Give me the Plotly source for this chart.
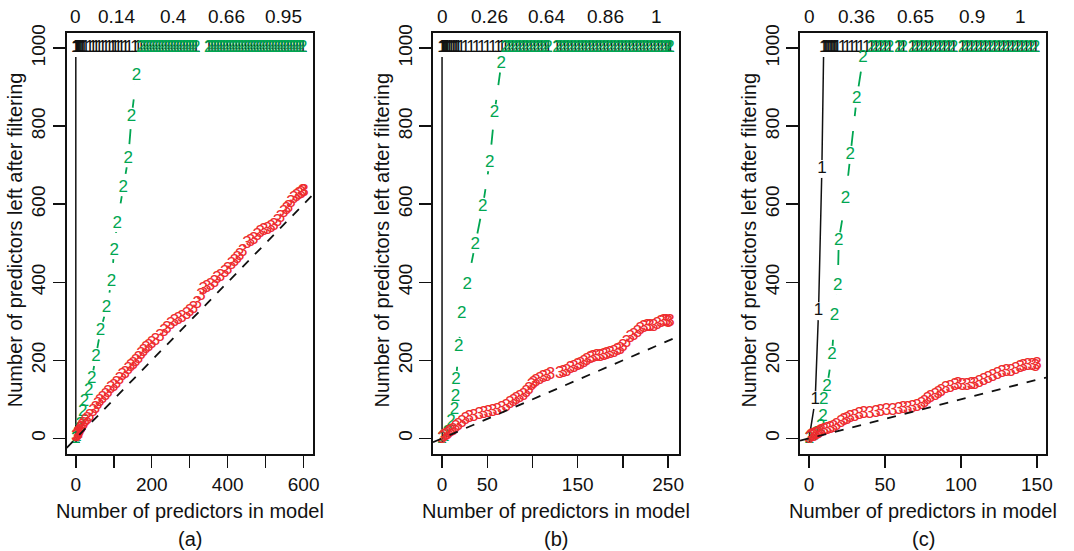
import plotly.graph_objects as go

# ---------------- data ----------------
# Panel (a)
A_BLACK_X = [0, 0]
A_BLACK_Y = [0, 1000]
A_TOP_X = [1, 2, 3, 5, 7, 10, 13, 17, 21, 26, 37, 45, 53, 61, 70, 79, 88, 97, 103,
           111, 120, 130, 140, 156, 164, 172, 180, 188, 196, 204, 212, 220, 228, 236,
           244, 252, 260, 268, 276, 284, 292, 300, 308, 316, 350, 358, 366, 374, 382,
           390, 398, 406, 414, 422, 430, 438, 446, 454, 462, 470, 478, 486, 494, 502,
           510, 518, 526, 534, 542, 550, 558, 566, 574, 582, 590, 598]
A_GREEN_X = [0, 3, 6, 9, 12, 18, 23, 34, 42, 53, 65, 81, 94, 101, 109, 125, 138, 147, 160]
A_GREEN_Y = [0, 5, 12, 22, 35, 67, 95, 122, 152, 209, 276, 334, 402, 482, 551, 643, 717, 825, 928]
A_RED_X = [0, 2, 4, 5, 7, 8, 10, 12, 14, 16, 20, 25, 30, 37, 45, 52, 58, 63, 70, 78, 85,
           92, 100, 107, 115, 122, 130, 138, 145, 151, 158, 165, 172, 178, 185, 192, 200,
           210, 222, 232, 240, 250, 260, 270, 280, 292, 300, 310, 320, 330, 336, 345, 355,
           365, 372, 381, 392, 400, 410, 418, 425, 432, 440, 451, 460, 469, 478, 486, 495,
           505, 514, 522, 531, 539, 548, 555, 560, 567, 574, 581, 588, 594, 598, 601]
A_RED_Y = [3, 5, 8, 12, 10, 15, 18, 22, 25, 30, 35, 42, 48, 56, 68, 76, 85, 94, 102, 110, 118,
           126, 133, 141, 150, 160, 166, 176, 183, 188, 196, 205, 215, 223, 230, 236, 242,
           250, 261, 272, 280, 290, 298, 305, 310, 317, 325, 333, 345, 365, 381, 385, 392,
           400, 410, 415, 425, 432, 445, 452, 460, 468, 478, 500, 505, 510, 518, 527, 531,
           535, 540, 544, 555, 565, 578, 585, 592, 603, 615, 620, 625, 628, 631, 632]
A_TOP_POS = [0, 108, 256, 396, 547]
A_TOP_LAB = ["0", "0.14", "0.4", "0.66", "0.95"]

# Panel (b)
B_BLACK_X = [0, 0]
B_BLACK_Y = [0, 1000]
B_TOP_X = [1, 2, 3, 4, 5, 6, 8, 10, 12, 14, 16, 18, 21, 26, 32, 38, 44, 50, 56, 62, 66, 70,
           74, 78, 82, 86, 90, 94, 98, 102, 106, 110, 114, 117, 127, 131, 135, 139, 143,
           147, 151, 155, 159, 163, 167, 171, 175, 179, 183, 187, 191, 195, 199, 203, 207,
           211, 215, 219, 223, 227, 231, 235, 239, 243, 247, 250, 252]
B_GREEN_X = [0, 3, 6, 10, 13.7, 14.8, 15.5, 18.5, 21.8, 27.8, 36.7, 45, 52.6, 58, 65.5]
B_GREEN_Y = [0, 5, 15, 43, 73, 107, 150, 235, 320, 394, 497, 594, 707, 834, 960]
B_RED_X = [0, 2, 4, 6, 8, 10, 12, 15, 18, 22, 26, 30, 35, 41, 46, 51, 56, 61, 66, 71, 75,
           79, 82, 86, 90, 93, 96, 99, 101, 104, 108, 112, 116, 120, 130, 134, 138, 142,
           146, 150, 153, 157, 160, 164, 167, 171, 175, 179, 182, 186, 190, 194, 197, 200,
           204, 208, 212, 216, 219, 223, 227, 230, 234, 238, 242, 245, 248, 250, 252]
B_RED_Y = [0, 4, 8, 10, 14, 18, 20, 26, 32, 40, 47, 52, 56, 60, 63, 66, 68, 72, 76, 81, 88,
           94, 98, 104, 110, 116, 124, 134, 141, 146, 150, 155, 158, 162, 165, 167, 172, 178,
           182, 186, 188, 194, 200, 204, 206, 208, 210, 212, 214, 216, 220, 224, 227, 235,
           246, 257, 262, 270, 279, 283, 285, 286, 287, 292, 296, 300, 298, 296, 299]
B_TOP_POS = [0, 52.6, 116, 181, 237]
B_TOP_LAB = ["0", "0.26", "0.64", "0.86", "1"]

# Panel (c)
C_BLACK_X = [0, 4, 6.2, 8.4]
C_BLACK_Y = [0, 98, 326, 690]
C_TOP_X = [9.6, 10.5, 11.5, 12.5, 13.5, 14.5, 15.5, 16.5, 17.5, 18.5, 22, 25, 28, 31, 34,
           38, 41, 44, 47, 50, 53, 59, 62, 68, 71, 74, 77, 80, 83, 86, 89, 92, 95, 101,
           104, 107, 110, 113, 116, 119, 122, 125, 128, 131, 134, 137, 140, 143, 146, 149]
C_GREEN_X = [0, 3, 5, 7.7, 9.1, 9.6, 11.8, 15.1, 16.7, 18.9, 19.5, 24, 27, 31.3, 35.5]
C_GREEN_Y = [0, 6, 12, 30, 56, 98, 133, 214, 313, 390, 506, 613, 726, 870, 975]
C_RED_X = [0, 1, 2, 3, 4, 5, 6, 7, 8, 10, 12, 14, 16, 18, 21, 23, 25, 27, 30, 33, 36, 40,
           44, 47, 51, 55, 59, 62, 65, 68, 71, 74, 76, 78, 80, 83, 85, 87, 90, 93, 96, 98,
           101, 104, 107, 109, 112, 115, 118, 121, 124, 127, 130, 133, 136, 139, 141, 144,
           147, 149, 150]
C_RED_Y = [0, 3, 6, 5, 9, 10, 12, 14, 16, 20, 22, 25, 28, 32, 39, 45, 48, 52, 56, 60, 62,
           64, 66, 68, 70, 72, 74, 75, 77, 78, 80, 86, 92, 98, 104, 110, 115, 120, 126, 130,
           134, 137, 136, 136, 137, 138, 142, 148, 154, 158, 162, 167, 170, 172, 176, 180,
           184, 186, 186, 184, 188]
C_TOP_POS = [0, 31.3, 70, 107, 139.5]
C_TOP_LAB = ["0", "0.36", "0.65", "0.9", "1"]

SAT = 1000  # saturation level

X_RANGES = [[-24, 624], [-10, 262], [-6, 156]]
X_TICKS = [[0, 100, 200, 300, 400, 500, 600], [0, 50, 100, 150, 200, 250], [0, 50, 100, 150]]
X_TICKTEXT = [["0", "", "200", "", "400", "", "600"], ["0", "50", "", "150", "", "250"],
              ["0", "50", "100", "150"]]
Y_TICKS = [0, 200, 400, 600, 800, 1000]
PANEL_LABELS = ["(a)", "(b)", "(c)"]
X_TITLE = "Number of predictors in model"
Y_TITLE = "Number of predictors left after filtering"

# ---------------- styling ----------------
W, H = 1074, 551
FONT = "Liberation Sans, Arial, Helvetica, sans-serif"
BLACK = "#111111"
GREEN = "#00A651"
RED = "#EE2B2E"
BOX_PX = [(66.7, 312.7), (433, 679), (800, 1046)]
TOP_PX, BOT_PX = 32.5, 454
YDOM = [1 - BOT_PX / H, 1 - TOP_PX / H]
TICK_FS = 19
TITLE_FS = 20
MARK_FS = 17

panels = [
    (A_BLACK_X, A_BLACK_Y, A_TOP_X, A_GREEN_X, A_GREEN_Y, A_RED_X, A_RED_Y, A_TOP_POS, A_TOP_LAB),
    (B_BLACK_X, B_BLACK_Y, B_TOP_X, B_GREEN_X, B_GREEN_Y, B_RED_X, B_RED_Y, B_TOP_POS, B_TOP_LAB),
    (C_BLACK_X, C_BLACK_Y, C_TOP_X, C_GREEN_X, C_GREEN_Y, C_RED_X, C_RED_Y, C_TOP_POS, C_TOP_LAB),
]

fig = go.Figure()
annotations = []
for i, (bx, by, topx, gx, gy, rx, ry, tpos, tlab) in enumerate(panels):
    n = "" if i == 0 else str(i + 1)
    xa, ya = "x" + n, "y" + n
    # black series: rising points then the saturated row
    blk_x = list(bx) + [t for t in topx if t > max(bx) or (max(bx) == 0 and t >= 0)]
    blk_y = list(by) + [SAT] * (len(blk_x) - len(by))
    # green series: rising part then saturated row beyond last rising point
    gr_x = list(gx) + [t for t in topx if t > max(gx) + 4]
    gr_y = list(gy) + [SAT] * (len(gr_x) - len(gy))

    gap = dict(color="white", size=18, symbol="circle", line=dict(width=0))
    fig.add_trace(go.Scatter(x=gr_x, y=gr_y, mode="lines+markers", xaxis=xa, yaxis=ya,
                             line=dict(color=GREEN, width=1.8, dash="longdash"),
                             marker=gap, hoverinfo="skip", showlegend=False))
    fig.add_trace(go.Scatter(x=blk_x, y=blk_y, mode="lines+markers", xaxis=xa, yaxis=ya,
                             line=dict(color=BLACK, width=1.5), marker=gap,
                             hoverinfo="skip", showlegend=False))
    tf = dict(family=FONT, size=MARK_FS)
    fig.add_trace(go.Scatter(x=blk_x, y=blk_y, mode="text", text=["1"] * len(blk_x),
                             textfont=dict(tf, color=BLACK), xaxis=xa, yaxis=ya,
                             hoverinfo="skip", showlegend=False, cliponaxis=False))
    fig.add_trace(go.Scatter(x=gr_x, y=gr_y, mode="text", text=["2"] * len(gr_x),
                             textfont=dict(tf, color=GREEN), xaxis=xa, yaxis=ya,
                             hoverinfo="skip", showlegend=False, cliponaxis=False))
    fig.add_trace(go.Scatter(x=rx, y=ry, mode="text", text=["3"] * len(rx),
                             textfont=dict(tf, color=RED), xaxis=xa, yaxis=ya,
                             hoverinfo="skip", showlegend=False, cliponaxis=False))
    # y = x reference line across the plotting region
    lo, hi = X_RANGES[i]
    fig.add_trace(go.Scatter(x=[lo, hi], y=[lo, hi], mode="lines", xaxis=xa, yaxis=ya,
                             line=dict(color=BLACK, width=1.8, dash="dash"),
                             hoverinfo="skip", showlegend=False))

    l, r = BOX_PX[i]
    xdom = [l / W, r / W]
    axis_common = dict(showgrid=False, zeroline=False, showline=True, mirror=True,
                       linecolor=BLACK, linewidth=1.8, ticks="outside", ticklen=12,
                       tickwidth=1.5, tickcolor=BLACK, automargin=False,
                       tickfont=dict(family=FONT, size=TICK_FS, color=BLACK))
    fig.layout["xaxis" + n] = dict(axis_common, domain=xdom, range=X_RANGES[i],
                                   anchor=ya, tickmode="array", tickvals=X_TICKS[i],
                                   ticktext=X_TICKTEXT[i], ticklabelstandoff=0)
    fig.layout["yaxis" + n] = dict(axis_common, domain=YDOM, range=[-40, 1040],
                                   anchor=xa, tickmode="array", tickvals=Y_TICKS,
                                   ticktext=[str(v) for v in Y_TICKS], tickangle=-90,
                                   ticklabelstandoff=0)
    # top labels
    for p, lab in zip(tpos, tlab):
        annotations.append(dict(x=p, y=1 - 16 / H, xref=xa, yref="paper", text=lab,
                                showarrow=False, xanchor="center", yanchor="middle",
                                font=dict(family=FONT, size=TICK_FS, color=BLACK)))
    cx = (l + r) / 2 / W
    annotations.append(dict(x=cx, y=1 - 511 / H, xref="paper", yref="paper", text=X_TITLE,
                            showarrow=False, xanchor="center", yanchor="middle",
                            font=dict(family=FONT, size=TITLE_FS, color=BLACK)))
    annotations.append(dict(x=cx, y=1 - 539 / H, xref="paper", yref="paper",
                            text=PANEL_LABELS[i], showarrow=False, xanchor="center",
                            yanchor="middle", font=dict(family=FONT, size=TITLE_FS, color=BLACK)))
    annotations.append(dict(x=(l - 51.5) / W, y=1 - 240 / H, xref="paper", yref="paper",
                            text=Y_TITLE, textangle=-90, showarrow=False, xanchor="center",
                            yanchor="middle", font=dict(family=FONT, size=TITLE_FS, color=BLACK)))

fig.update_layout(width=W, height=H,
                  margin=dict(l=0, r=0, t=0, b=0, pad=0, autoexpand=False),
                  paper_bgcolor="white", plot_bgcolor="white",
                  annotations=annotations, showlegend=False, hovermode=False)

PAGE_FIX = (
    "var gd=document.getElementById('{plot_id}');"
    "[document.documentElement, document.body].forEach(function(e){"
    "e.style.margin='0';e.style.padding='0';e.style.overflow='hidden';});"
    "window.scrollTo(0,0);"
)
fig.write_html("out.html", config={"displayModeBar": False, "staticPlot": True},
               post_script=PAGE_FIX)
